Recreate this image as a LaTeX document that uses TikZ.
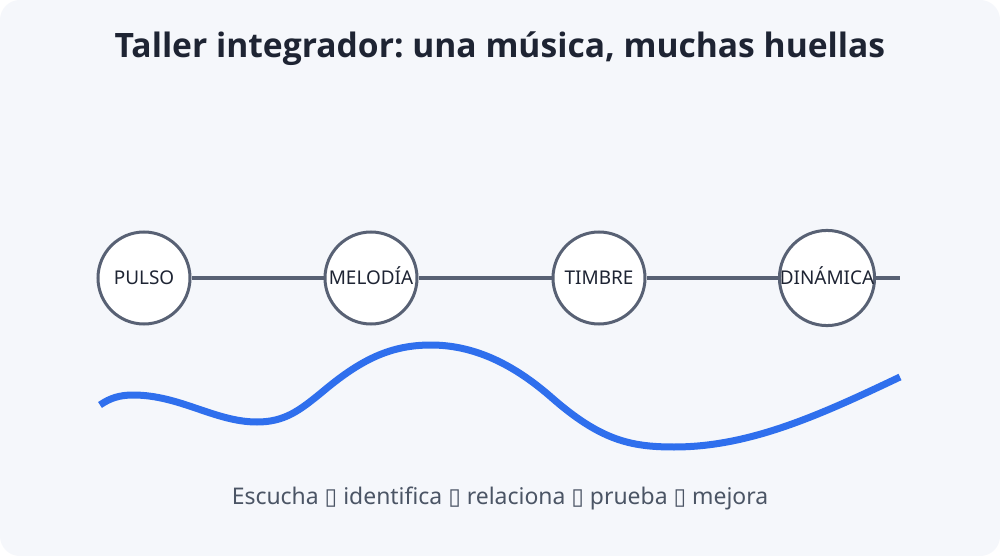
\documentclass[tikz,border=0pt]{standalone}
\usepackage{fontspec}
\setmainfont{Noto Sans}
\newfontfamily\titlefont{Open Sans}
\newfontfamily\symfont{DejaVu Sans}
\definecolor{bgc}{HTML}{F5F7FB}
\definecolor{titlec}{HTML}{1E2433}
\definecolor{linec}{HTML}{586174}
\definecolor{wavec}{HTML}{2F6FED}
\definecolor{subc}{HTML}{4B5565}
\newcommand{\tofu}{{\symfont\char"25AF}}
\frenchspacing
\begin{document}
\begin{tikzpicture}[x=0.75pt,y=-0.75pt,
  stage/.style={circle,draw=linec,line width=2.25pt,fill=white,minimum size=69pt,inner sep=0pt,text height=10pt,text depth=0pt,font=\fontsize{14.2pt}{16pt}\selectfont,text=titlec},
  conn/.style={draw=linec,line width=3pt}]
\useasboundingbox (0,0) rectangle (1000,556);
\fill[white] (0,0) rectangle (1000,556);
\fill[bgc,rounded corners=15pt] (0,0) rectangle (1000,556);
\node[font=\titlefont\fontsize{25.2pt}{29pt}\selectfont\bfseries,text=titlec] (title) at (500,49) {Taller integrador: una música, muchas huellas};
\coordinate (lend) at (900,278);
\node[stage] (p) at (144,278) {PULSO};
\node[stage] (m) at (371,278) {MELODÍA};
\node[stage] (t) at (599,278) {TIMBRE};
\node[stage] (d) at (827,278) {DINÁMICA};
\draw[conn] (p.east) -- (m.west);
\draw[conn] (m.east) -- (t.west);
\draw[conn] (t.east) -- (d.west);
\draw[conn] (d.east) -- (lend);
\draw[wavec,line width=5.25pt]
  (100,405) .. controls (110,398) and (120,395) .. (133,395)
  .. controls (180,395) and (215,422) .. (257,422)
  .. controls (285,422) and (300,410) .. (321,393)
  .. controls (360,360) and (390,345) .. (431,345)
  .. controls (480,345) and (520,370) .. (551,397)
  .. controls (600,440) and (630,447) .. (674,447)
  .. controls (750,447) and (820,415) .. (900,377);
\node[font=\fontsize{17.2pt}{20pt}\selectfont,text=subc] (sub) at (500,498) {Escucha \tofu\ identifica \tofu\ relaciona \tofu\ prueba \tofu\ mejora};
\end{tikzpicture}
\end{document}
